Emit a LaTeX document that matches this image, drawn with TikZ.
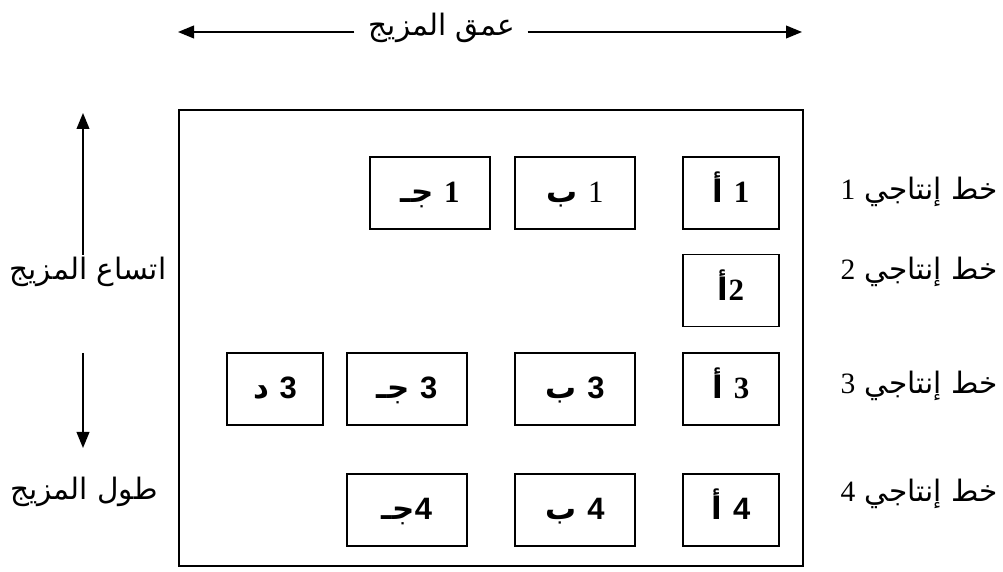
\documentclass[tikz,border=0pt]{standalone}
\usepackage{fontspec}
\setmainfont{Liberation Serif}
\setsansfont{Liberation Sans}
\newfontfamily\arabicfont[Script=Arabic]{DejaVu Sans}
\usetikzlibrary{arrows.meta}
\TeXXeTstate=1
\newcommand{\artxt}[1]{{\arabicfont\beginR #1\endR}}
\newcommand{\dg}[1]{{\rmfamily #1}}
\newcommand{\sdg}[1]{{\sffamily #1}}

\begin{document}
\begin{tikzpicture}[
    prod/.style={rectangle, draw, line width=0.9pt, minimum width=#1,
                 minimum height=1.8cm, inner sep=0pt,
                 text height=0.6cm, text depth=0.1cm,
                 font=\fontsize{22}{24}\selectfont\bfseries},
    prod/.default=3cm,
    rowlbl/.style={anchor=east, inner sep=0pt, font=\fontsize{21}{24}\selectfont},
    axlbl/.style={inner sep=0pt, font=\fontsize{21}{24}\selectfont},
    arr/.style={line width=1pt, -{Triangle[length=0.4cm, width=0.32cm]}},
  ]
    \useasboundingbox (0,0) rectangle (25.075,-14.3);

    \node[draw, line width=1.4pt, minimum width=15.6cm, minimum height=11.4cm]
      (mix) at (12.275,-8.45) {};

    \node[prod=2.4cm] (a1) at (18.275,-4.825) {\artxt{\dg{1} أ}};
    \node[prod] (b1) at (14.375,-4.825) {\artxt{\dg{\mdseries 1} ب}};
    \node[prod] (c1) at (10.75,-4.825) {\artxt{\dg{1} جـ}};

    \node[prod=2.4cm] (a2) at (18.275,-7.2625) {\artxt{\dg{2}أ}};

    \node[prod=2.4cm] (a3) at (18.275,-9.725) {\artxt{\dg{3} أ}};
    \node[prod] (b3) at (14.375,-9.725) {\artxt{\sdg{3} ب}};
    \node[prod] (c3) at (10.175,-9.725) {\artxt{\sdg{3} جـ}};
    \node[prod=2.4cm] (d3) at (6.875,-9.725) {\artxt{\sdg{3} د}};

    \node[prod=2.4cm] (a4) at (18.275,-12.75) {\artxt{\sdg{4} أ}};
    \node[prod] (b4) at (14.375,-12.75) {\artxt{\sdg{4} ب}};
    \node[prod] (c4) at (10.175,-12.75) {\artxt{\sdg{4}جـ}};

    \node[rowlbl] (line1) at (24.95,-4.8) {\artxt{خط إنتاجي \dg{1}}};
    \node[rowlbl] (line2) at (24.95,-6.8) {\artxt{خط إنتاجي \dg{2}}};
    \node[rowlbl] (line3) at (24.95,-9.65) {\artxt{خط إنتاجي \dg{3}}};
    \node[rowlbl] (line4) at (24.95,-12.35) {\artxt{خط إنتاجي \dg{4}}};

    \node[axlbl] (depth) at (11.05,-0.7) {\artxt{عمق المزيج}};
    \coordinate (dleft) at (4.45,-0.8);
    \coordinate (dright) at (20.05,-0.8);
    \draw[arr, shorten <=0.35cm] (depth.west |- dleft) -- (dleft);
    \draw[arr, shorten <=0.3cm] (depth.east |- dright) -- (dright);

    \node[axlbl] (breadth) at (2.2,-6.8) {\artxt{اتساع المزيج}};
    \node[axlbl] (length) at (2.1,-12.3) {\artxt{طول المزيج}};
    \coordinate (wup0) at (2.075,-6.375);
    \coordinate (wup) at (2.075,-2.825);
    \coordinate (wdn0) at (2.075,-8.825);
    \coordinate (wdn1) at (2.075,-11.2);
    \draw[arr] (wup0) -- (wup);
    \draw[arr] (wdn0) -- (wdn1);
\end{tikzpicture}
\end{document}
